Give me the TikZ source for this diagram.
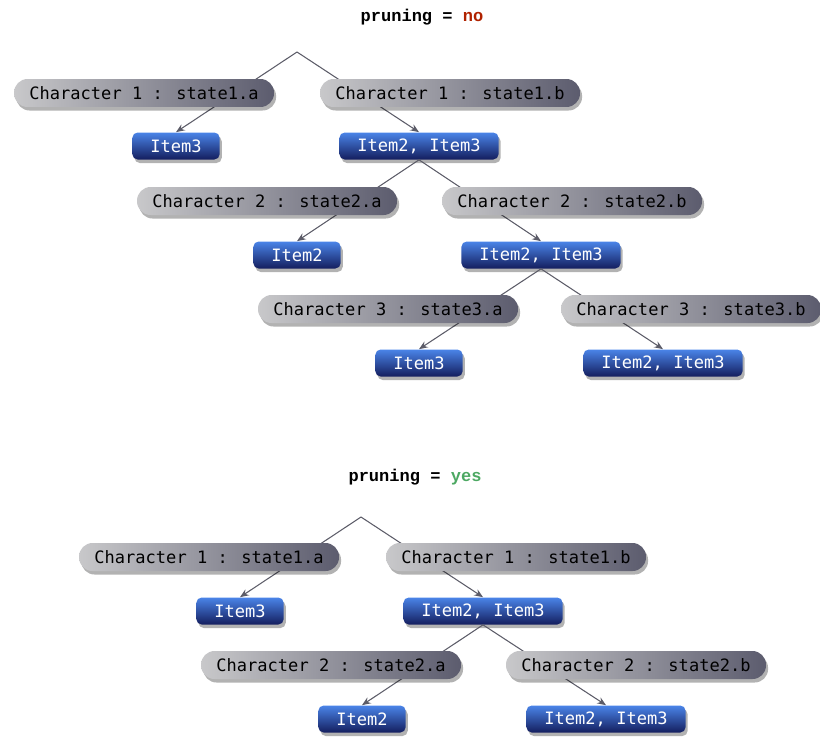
\documentclass[tikz,border=0pt]{standalone}
\usepackage{fontspec}
\setmonofont{Liberation Mono}
\newfontfamily\boxfont{DejaVu Sans Mono}
\usetikzlibrary{arrows.meta,shadows}

\definecolor{pruneno}{HTML}{B02200}
\definecolor{pruneyes}{HTML}{4CA862}
\definecolor{edgegray}{HTML}{5C5C68}
\definecolor{charlight}{HTML}{C8C8CA}
\definecolor{chardark}{HTML}{5C5C6E}
\definecolor{itemlight}{HTML}{4A84E8}
\definecolor{itemdark}{HTML}{141E5E}

\tikzset{
  charbox/.style={rounded corners=0.27cm,minimum width=5.2cm,minimum height=0.56cm,
    left color=charlight,right color=chardark,text=black,
    font=\boxfont\fontsize{9.7pt}{12pt}\selectfont,
    drop shadow={shadow xshift=1.2pt,shadow yshift=-2pt,opacity=0.3,fill=black}},
  itembox/.style={rounded corners=3pt,minimum height=0.54cm,inner xsep=0.36cm,
    top color=itemlight,bottom color=itemdark,text=white,
    font=\boxfont\fontsize{9.7pt}{12pt}\selectfont,
    drop shadow={shadow xshift=1.2pt,shadow yshift=-2pt,opacity=0.3,fill=black}},
  titletext/.style={font=\ttfamily\bfseries\fontsize{9.7pt}{12pt}\selectfont}
}

\begin{document}
\begin{tikzpicture}[x=0.02cm,y=-0.02cm]
  \useasboundingbox (0,0) rectangle (820,737);

  % pruning = no
  \node[titletext] (t1) at (422,17) {pruning = \textcolor{pruneno}{no}};
  \coordinate (r1) at (297,52);

  \begin{scope}[every node/.style={itembox}]
    \node (i1) at (176,146) {Item3};
    \node (i2) at (419,146) {Item2, Item3};
    \node (i3) at (297,255) {Item2};
    \node (i4) at (541,255) {Item2, Item3};
    \node (i5) at (419,363) {Item3};
    \node (i6) at (663,363) {Item2, Item3};
  \end{scope}

  \begin{scope}[every edge/.style={draw=edgegray,line width=0.6pt,-{Stealth[length=5pt,width=4pt]}}]
    \path (r1)       edge (i1.north);
    \path (r1)       edge (i2.north);
    \path (i2.south) edge (i3.north);
    \path (i2.south) edge (i4.north);
    \path (i4.south) edge (i5.north);
    \path (i4.south) edge (i6.north);
  \end{scope}

  \begin{scope}[every node/.style={charbox}]
    \node (c1) at (144,93)  {Character 1 : state1.a};
    \node (c2) at (450,93)  {Character 1 : state1.b};
    \node (c3) at (267,201) {Character 2 : state2.a};
    \node (c4) at (572,201) {Character 2 : state2.b};
    \node (c5) at (388,309) {Character 3 : state3.a};
    \node (c6) at (691,309) {Character 3 : state3.b};
  \end{scope}

  % pruning = yes
  \node[titletext] (t2) at (415,477) {pruning = \textcolor{pruneyes}{yes}};
  \coordinate (r2) at (361,517);

  \begin{scope}[every node/.style={itembox}]
    \node (j1) at (240,611) {Item3};
    \node (j2) at (483,611) {Item2, Item3};
    \node (j3) at (362,719) {Item2};
    \node (j4) at (606,719) {Item2, Item3};
  \end{scope}

  \begin{scope}[every edge/.style={draw=edgegray,line width=0.6pt,-{Stealth[length=5pt,width=4pt]}}]
    \path (r2)       edge (j1.north);
    \path (r2)       edge (j2.north);
    \path (j2.south) edge (j3.north);
    \path (j2.south) edge (j4.north);
  \end{scope}

  \begin{scope}[every node/.style={charbox}]
    \node (d1) at (209,557) {Character 1 : state1.a};
    \node (d2) at (516,557) {Character 1 : state1.b};
    \node (d3) at (331,665) {Character 2 : state2.a};
    \node (d4) at (636,665) {Character 2 : state2.b};
  \end{scope}

\end{tikzpicture}
\end{document}
